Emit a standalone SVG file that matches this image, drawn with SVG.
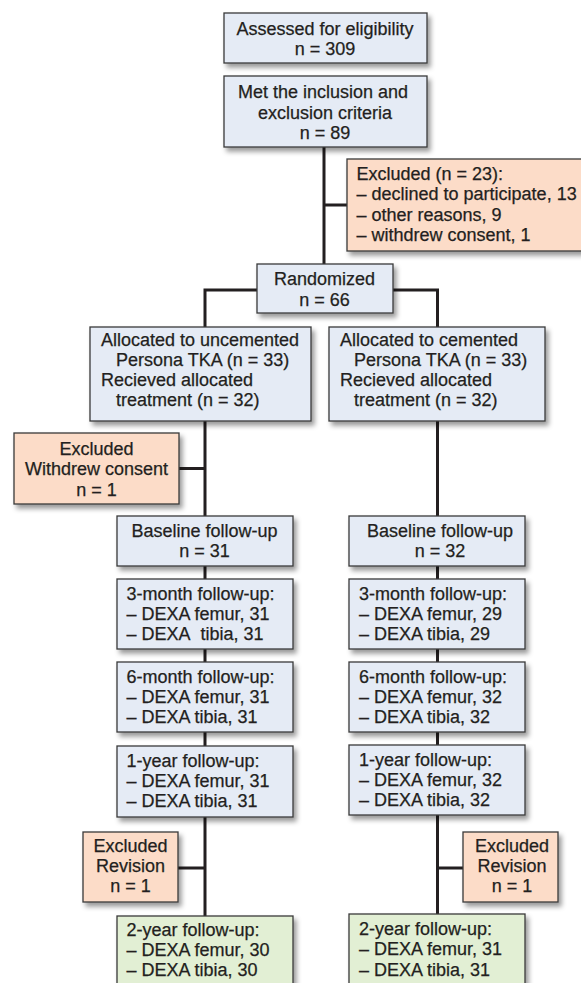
<svg xmlns="http://www.w3.org/2000/svg" width="581" height="983" viewBox="0 0 581 983">
<defs>
<filter id="sh" x="-10%" y="-10%" width="130%" height="140%">
<feDropShadow dx="3" dy="4" stdDeviation="2.5" flood-color="#000" flood-opacity="0.4"/>
</filter>
<style>
.b{fill:#e5ebf5;stroke:#3a3a3a;stroke-width:1.3;filter:url(#sh)}
.o{fill:#fcdcc8;stroke:#3a3a3a;stroke-width:1.3;filter:url(#sh)}
.g{fill:#e2efd4;stroke:#3a3a3a;stroke-width:1.3;filter:url(#sh)}
text{font-family:"Liberation Sans",Arial,sans-serif;font-size:18px;fill:#231f20;stroke:#231f20;stroke-width:0.25}
.c{text-anchor:middle}
.ln{fill:none;stroke:#231f20;stroke-width:3}
</style>
</defs>
<rect width="581" height="983" fill="#fff"/>
<g id="connectors" class="ln">
<path class="ln" d="M324,147V264M324,205H347"/>
<path class="ln" d="M257,290H205V327M393,290H437.5V327"/>
<path class="ln" d="M205,421V516M179,468.5H205"/>
<path class="ln" d="M437.5,421V516"/>
<path class="ln" d="M205,566V579M205,649V662M205,732V746M205,817V916M178,868H205"/>
<path class="ln" d="M437.5,566V579M437.5,649V662M437.5,732V745M437.5,815V914M437.5,868H463"/>
</g>
<g id="assessed"><rect class="b" x="224" y="13" width="203" height="50"/>
<text class="c" x="325" y="34.5">Assessed for eligibility</text><text class="c" x="325" y="55">n = 309</text></g>
<g id="met"><rect class="b" x="224" y="76" width="203" height="71"/>
<text class="c" x="323" y="98">Met the inclusion and</text><text class="c" x="325" y="118.5">exclusion criteria</text><text class="c" x="325" y="139">n = 89</text></g>
<g id="excluded23"><rect class="o" x="347" y="159" width="240" height="92"/>
<text x="356.5" y="179.5">Excluded (n = 23):</text><text x="356.5" y="200">– declined to participate, 13</text><text x="356.5" y="220.5">– other reasons, 9</text><text x="356.5" y="241">– withdrew consent, 1</text></g>
<g id="randomized"><rect class="b" x="257" y="264" width="136" height="49"/>
<text class="c" x="324.5" y="285">Randomized</text><text class="c" x="324.5" y="305.5">n = 66</text></g>
<g id="alloc-uncemented"><rect class="b" x="90" y="327" width="221" height="94"/>
<text x="101" y="346">Allocated to uncemented</text><text x="116" y="366">Persona TKA (n = 33)</text><text x="101" y="386">Recieved allocated</text><text x="116" y="406">treatment (n = 32)</text></g>
<g id="alloc-cemented"><rect class="b" x="329" y="327" width="216" height="94"/>
<text x="340" y="346">Allocated to cemented</text><text x="354" y="366">Persona TKA (n = 33)</text><text x="340" y="386">Recieved allocated</text><text x="354" y="406">treatment (n = 32)</text></g>
<g id="excluded-withdrew"><rect class="o" x="14" y="433" width="165" height="71"/>
<text class="c" x="96.5" y="455">Excluded</text><text class="c" x="96.5" y="475">Withdrew consent</text><text class="c" x="96.5" y="495.5">n = 1</text></g>
<g id="baseline-left"><rect class="b" x="117" y="516" width="176" height="50"/>
<text class="c" x="204.5" y="537">Baseline follow-up</text><text class="c" x="204.5" y="557">n = 31</text></g>
<g id="baseline-right"><rect class="b" x="349" y="516" width="176" height="50"/>
<text class="c" x="440" y="537">Baseline follow-up</text><text class="c" x="440" y="557">n = 32</text></g>
<g id="m3-left"><rect class="b" x="117" y="579" width="176" height="70"/>
<text x="126.5" y="599.5">3-month follow-up:</text><text x="126.5" y="619.5">– DEXA femur, 31</text><text x="126.5" y="639.5">– DEXA&#160; tibia, 31</text></g>
<g id="m3-right"><rect class="b" x="349" y="579" width="176" height="70"/>
<text x="359" y="599.5">3-month follow-up:</text><text x="359" y="619.5">– DEXA femur, 29</text><text x="359" y="639.5">– DEXA tibia, 29</text></g>
<g id="m6-left"><rect class="b" x="117" y="662" width="176" height="70"/>
<text x="126.5" y="682.5">6-month follow-up:</text><text x="126.5" y="702.5">– DEXA femur, 31</text><text x="126.5" y="722.5">– DEXA tibia, 31</text></g>
<g id="m6-right"><rect class="b" x="349" y="662" width="176" height="70"/>
<text x="359" y="682.5">6-month follow-up:</text><text x="359" y="702.5">– DEXA femur, 32</text><text x="359" y="722.5">– DEXA tibia, 32</text></g>
<g id="y1-left"><rect class="b" x="117" y="746" width="176" height="71"/>
<text x="126.5" y="766.5">1-year follow-up:</text><text x="126.5" y="786.5">– DEXA femur, 31</text><text x="126.5" y="806.5">– DEXA tibia, 31</text></g>
<g id="y1-right"><rect class="b" x="349" y="745" width="176" height="70"/>
<text x="359" y="765.5">1-year follow-up:</text><text x="359" y="785.5">– DEXA femur, 32</text><text x="359" y="805.5">– DEXA tibia, 32</text></g>
<g id="excluded-rev-left"><rect class="o" x="83" y="832" width="95" height="70"/>
<text class="c" x="130.5" y="852">Excluded</text><text class="c" x="130.5" y="872">Revision</text><text class="c" x="130.5" y="892">n = 1</text></g>
<g id="excluded-rev-right"><rect class="o" x="463" y="832" width="95" height="70"/>
<text class="c" x="512" y="852">Excluded</text><text class="c" x="512" y="872">Revision</text><text class="c" x="512" y="892">n = 1</text></g>
<g id="y2-left"><rect class="g" x="117" y="916" width="176" height="80"/>
<text x="126.5" y="935.5">2-year follow-up:</text><text x="126.5" y="955.5">– DEXA femur, 30</text><text x="126.5" y="976">– DEXA tibia, 30</text></g>
<g id="y2-right"><rect class="g" x="349" y="914" width="176" height="80"/>
<text x="359" y="934.5">2-year follow-up:</text><text x="359" y="955">– DEXA femur, 31</text><text x="359" y="975.5">– DEXA tibia, 31</text></g>
</svg>
